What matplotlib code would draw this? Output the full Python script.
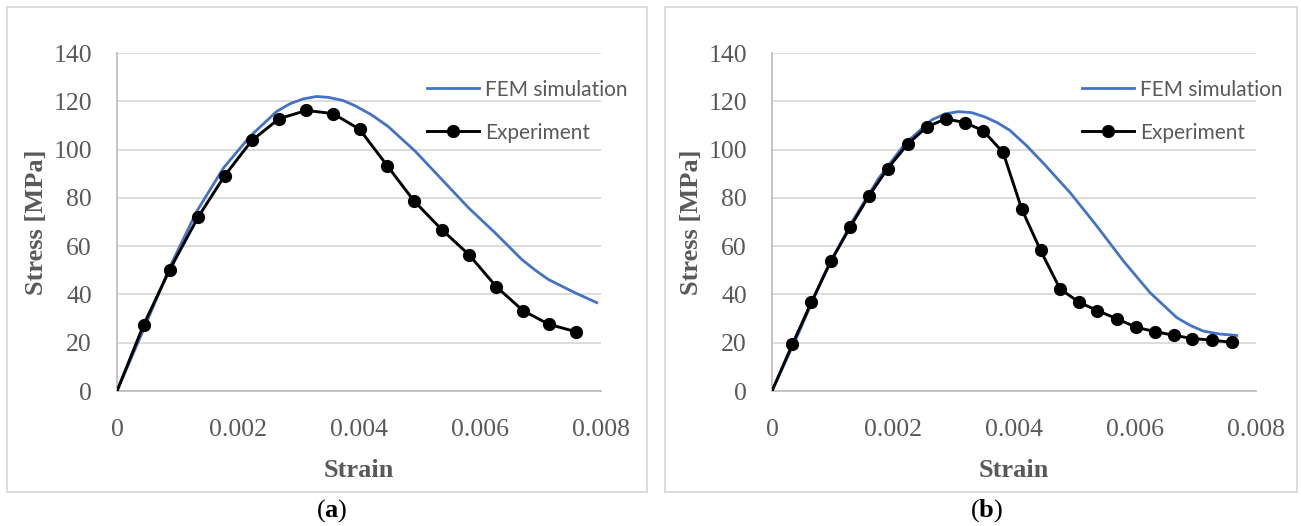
import matplotlib
matplotlib.use("Agg")
import matplotlib.pyplot as plt
from matplotlib.patches import Rectangle

# ---------------------------------------------------------------------------
# Data
# ---------------------------------------------------------------------------
# (a)
fem_a_strain = [0, 0.00044, 0.00088, 0.00132, 0.00176, 0.0022, 0.00264, 0.00286,
                0.00308, 0.0033, 0.0035, 0.00374, 0.00393, 0.0042, 0.00448,
                0.00493, 0.00537, 0.00581, 0.00625, 0.00669, 0.00691, 0.00713,
                0.00757, 0.00793]
fem_a_stress = [0, 25.5, 51.7, 74.5, 92.4, 105.5, 115.8, 119.0,
                121.0, 122.0, 121.6, 120.3, 118.2, 114.5, 109.6,
                99.3, 87.6, 75.9, 65.5, 54.5, 50.1, 46.2,
                40.7, 36.6]

exp_a_strain = [0, 0.00044, 0.00087, 0.00134, 0.00178, 0.00223, 0.00268, 0.00313,
                0.00357, 0.00401, 0.00447, 0.00491, 0.00537, 0.00582, 0.00627,
                0.00671, 0.00714, 0.00758]
exp_a_stress = [0, 27.4, 50.2, 72.0, 89.2, 103.8, 112.8, 116.2,
                114.9, 108.4, 93.2, 78.7, 66.8, 56.4, 43.2,
                33.3, 27.6, 24.6]

# (b)
fem_b_strain = [0, 0.00044, 0.00087, 0.00132, 0.00176, 0.0022, 0.00264, 0.00286,
                0.00308, 0.0033, 0.00352, 0.00372, 0.00393, 0.0042, 0.00448,
                0.00493, 0.00537, 0.00581, 0.00625, 0.00669, 0.00691, 0.00713,
                0.0074, 0.00768]
fem_b_stress = [0, 24.0, 48.8, 70.0, 88.0, 102.5, 112.3, 114.8,
                115.7, 115.3, 113.5, 111.2, 108.0, 101.8, 94.5,
                82.1, 68.3, 53.8, 40.7, 30.4, 27.2, 24.8,
                23.6, 23.0]

exp_b_strain = [0, 0.000336, 0.00065, 0.000975, 0.00129, 0.0016, 0.00191, 0.00224,
                0.00256, 0.00287, 0.00319, 0.00349, 0.00382, 0.00413, 0.00444,
                0.00476, 0.00508, 0.00538, 0.00571, 0.00602, 0.00633, 0.00664,
                0.00695, 0.00727, 0.00761]
exp_b_stress = [0, 19.3, 36.7, 53.8, 67.8, 80.7, 92.1, 102.2,
                109.4, 112.7, 111.2, 107.8, 98.8, 75.2, 58.2,
                42.3, 36.7, 33.3, 29.8, 26.4, 24.6, 23.1,
                21.7, 21.1, 20.1]

x_ticks = [0, 0.002, 0.004, 0.006, 0.008]
x_tick_labels = ["0", "0.002", "0.004", "0.006", "0.008"]
y_ticks = [0, 20, 40, 60, 80, 100, 120, 140]
captions = ["a", "b"]

# ---------------------------------------------------------------------------
# Style
# ---------------------------------------------------------------------------
plt.rcParams["mathtext.fontset"] = "custom"
plt.rcParams["mathtext.rm"] = "Liberation Serif"
plt.rcParams["mathtext.bf"] = "Liberation Serif:bold"

W, H = 1301, 526
fig = plt.figure(figsize=(W / 100, H / 100), dpi=100)

grey_txt = "#595959"
grid_col = "#d9d9d9"
axis_col = "#bfbfbf"
fem_col = "#4472c4"


def draw_panel(x_left, frame_left, frame_right, fem_x, fem_y, exp_x, exp_y, letter):
    # frame around the panel
    fig.patches.append(Rectangle((frame_left / W, (H - 492) / H),
                                 (frame_right - frame_left) / W, (492 - 7) / H,
                                 transform=fig.transFigure, fill=False,
                                 edgecolor=grid_col, linewidth=1.3))

    ax = fig.add_axes([x_left / W, (H - 391) / H, 484 / W, 338 / H])
    ax.plot(fem_x, fem_y, color=fem_col, linewidth=2.0, label="FEM simulation",
            zorder=3)
    # origin point has no marker in the original
    ax.plot(exp_x, exp_y, color="black", linewidth=2.1, marker="o",
            markersize=8.5, markevery=slice(1, None), label="Experiment", zorder=4)

    ax.set_xlim(0, 0.008)
    ax.set_ylim(0, 140)
    ax.set_xticks(x_ticks)
    ax.set_xticklabels(x_tick_labels)
    ax.set_yticks(y_ticks)
    ax.grid(axis="y", color=grid_col, linewidth=1.3)
    ax.set_axisbelow(True)
    for s in ["top", "right"]:
        ax.spines[s].set_visible(False)
    for s in ["left", "bottom"]:
        ax.spines[s].set_color(axis_col)
        ax.spines[s].set_linewidth(1.3)

    ax.tick_params(length=0, labelcolor=grey_txt, labelsize=18.5)
    ax.tick_params(axis="y", pad=18)
    ax.tick_params(axis="x", pad=20)
    for lab in ax.get_xticklabels() + ax.get_yticklabels():
        lab.set_fontfamily("Liberation Serif")

    ax.set_xlabel("Strain", fontsize=19, fontweight="bold", color=grey_txt,
                  family="Liberation Serif")
    ax.set_ylabel("Stress [MPa]", fontsize=19, fontweight="bold", color=grey_txt,
                  family="Liberation Serif")
    ax.xaxis.set_label_coords(0.5, -0.201)
    ax.yaxis.set_label_coords(-0.143, 0.5)

    leg = ax.legend(loc="upper left", bbox_to_anchor=(0.64, 0.921), frameon=False,
                    borderpad=0, borderaxespad=0, handlelength=2.5,
                    handletextpad=0.3, labelspacing=1.1,
                    prop={"family": "Lato", "size": 15})
    for t in leg.get_texts():
        t.set_color(grey_txt)

    # caption below the frame
    fig.text((frame_left + frame_right) / 2 / W + 0.004, (H - 511) / H,
             "(" + r"$\mathbf{" + letter + "}$" + ")", ha="center", va="center",
             fontsize=19, family="Liberation Serif", color="black")
    return ax


draw_panel(117, 7, 647, fem_a_strain, fem_a_stress, exp_a_strain, exp_a_stress,
           captions[0])
draw_panel(772, 665, 1297, fem_b_strain, fem_b_stress, exp_b_strain, exp_b_stress,
           captions[1])

fig.savefig("out.png", dpi=100)
